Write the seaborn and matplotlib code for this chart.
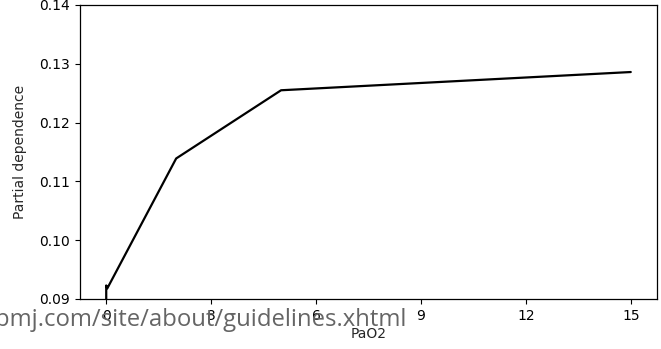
import matplotlib
matplotlib.use("Agg")
import matplotlib.pyplot as plt
import seaborn as sns
import pandas as pd

# Partial dependence of the model output on PaO2
pao2 = [0.0, 0.0, 0.03, 2.0, 5.0, 15.0]
partial_dependence = [0.0895, 0.0923, 0.0918, 0.1139, 0.1255, 0.1286]
x_ticks = [0, 3, 6, 9, 12, 15]
y_ticks = [0.09, 0.10, 0.11, 0.12, 0.13, 0.14]

df = pd.DataFrame({"PaO2": pao2, "Partial dependence": partial_dependence})

sns.set_style("white")
plt.rcParams["font.family"] = ["DejaVu Sans"]

fig = plt.figure(figsize=(6.61, 3.49), dpi=100)
ax = fig.add_axes([80 / 661, 1 - 299 / 349, 577 / 661, 294 / 349])

sns.lineplot(data=df, x="PaO2", y="Partial dependence", ax=ax,
             color="black", linewidth=1.6, sort=False, estimator=None)

ax.set_xlim(-0.75, 15.75)
ax.set_ylim(0.09, 0.14)
ax.set_xticks(x_ticks)
ax.set_xticklabels([str(t) for t in x_ticks])
ax.set_yticks(y_ticks)
ax.set_yticklabels([f"{t:.2f}" for t in y_ticks])
ax.tick_params(axis="both", direction="out", length=3.5, width=0.8,
               labelsize=10, colors="black", bottom=True, left=True)
ax.set_xlabel("PaO2", fontsize=10, labelpad=3)
ax.set_ylabel("Partial dependence", fontsize=10, labelpad=9)
for s in ax.spines.values():
    s.set_color("black")
    s.set_linewidth(0.9)

# Journal URL stamped across the lower edge
fig.text(-5 / 661, 1 - 326 / 349, "bmj.com/site/about/guidelines.xhtml",
         fontsize=17.2, color="#656565", family=["Open Sans", "DejaVu Sans"],
         ha="left", va="baseline")

fig.savefig("out.png", dpi=100)
